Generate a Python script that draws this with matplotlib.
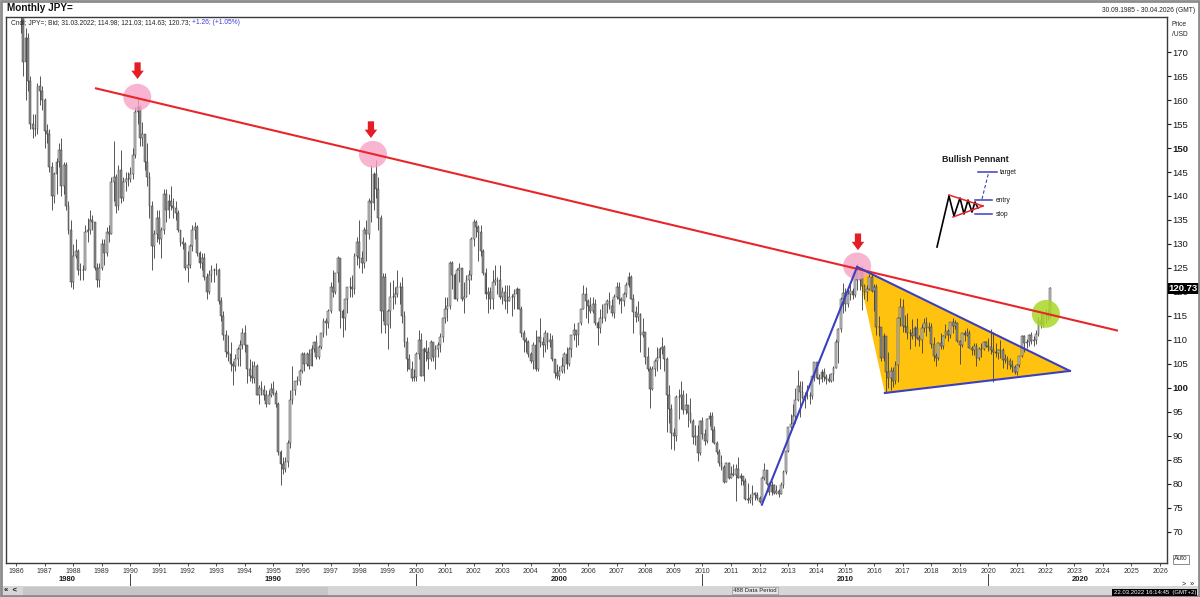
import numpy as np
import matplotlib
matplotlib.use("Agg")
import matplotlib.pyplot as plt
from matplotlib.patches import Ellipse, Polygon, Rectangle

plt.rcParams['font.family'] = ['Liberation Sans', 'DejaVu Sans']

# monthly USD/JPY bars, Oct 1985 .. Mar 2022 (open = previous close)
first_open = 216.0
last_open = 114.98

closes = [
    211.5, 201.5, 200.5,
    192, 180.5, 179, 168, 173, 164, 155, 154, 154, 163, 162, 160,
    153.5, 153, 146, 140, 144.5, 147, 149.5, 142, 146.5, 138, 133, 122,
    127.5, 128.5, 124.5, 124.5, 124.5, 132.5, 133, 135, 134.5, 125, 122.5, 125,
    130, 128, 132.5, 132, 143, 144, 138, 145.5, 139.5, 143, 143.5, 143.5,
    144.5, 148.5, 157.5, 158.5, 152, 153, 147, 144, 138, 129.5, 132, 135.5,
    131, 133, 140.5, 137, 139, 138, 137.5, 136.5, 133, 130.5, 130, 125,
    125.5, 129.5, 133, 133.5, 128, 126, 127, 123, 120, 123.5, 124.5, 124.5,
    124.5, 118, 115, 111, 107.5, 107, 105, 104.5, 106, 108, 109, 111.5,
    109, 104, 102.5, 102, 104.5, 98.5, 100, 99.5, 98.5, 96.5, 98.5, 99.7,
    99, 96.5, 86.5, 84, 83, 84.5, 88.5, 97.5, 99.5, 101.5, 101.5, 103.5,
    107, 105, 107, 104.5, 108, 109.5, 106.5, 108.5, 111.5, 114, 113.5, 116,
    121, 120, 124, 127, 116, 114.5, 118.5, 121, 121, 120.5, 127.5, 130.5,
    127, 126, 133, 132, 139, 138.5, 144.5, 141.5, 135.5, 116, 123, 113,
    116, 119, 119, 119.5, 121, 121, 115, 109.5, 106, 104, 102, 102.2,
    107, 110, 102.5, 108, 107.5, 106, 109.5, 106.5, 108, 109, 110.5, 114.5,
    116.5, 117, 126, 123.5, 118.5, 124.5, 125, 118.5, 119, 122.5, 123.5, 131,
    134.5, 133.5, 132.5, 128.5, 124, 119.5, 120, 118.5, 122, 122.5, 122.5, 119,
    120, 118, 118, 119, 119, 119.5, 120.5, 116.5, 111.5, 110, 109.5, 107,
    105.5, 109, 104, 110.5, 109.5, 109, 111.5, 109.5, 110, 106, 103, 102.5,
    103.5, 104.5, 107, 105, 108, 111, 112, 111, 113.5, 116.5, 119.5, 118,
    117, 116, 117.5, 113.5, 112.5, 114.5, 114.5, 117.5, 118, 117, 115.5, 119,
    121, 118.5, 118, 119.5, 121.5, 123, 118.5, 115.8, 114.8, 115.3, 111, 111.7,
    106.5, 104, 99.7, 104, 105.5, 106.2, 108, 108.5, 106, 98.5, 95.5, 90.6,
    89.9, 98, 98, 98.5, 95.3, 96.3, 94.7, 93, 89.7, 90, 86.3, 93,
    90.3, 88.8, 93.4, 94, 91.2, 88.4, 86.5, 84.2, 83.5, 80.4, 84.3, 81.1,
    82, 81.8, 83.1, 81.2, 81.5, 80.5, 76.8, 76.6, 77, 78, 77.6, 76.9,
    76.2, 81.2, 82.9, 80, 78.3, 79.8, 78.1, 78.4, 77.9, 79.8, 82.5, 86.7,
    91.7, 92.5, 94.2, 97.4, 100.4, 99.1, 97.9, 98.2, 98.2, 98.3, 102.4, 105.3,
    102, 101.8, 103.2, 102.2, 101.8, 101.3, 102.8, 104.1, 109.6, 112.3, 118.6, 119.8,
    117.5, 119.6, 120.1, 119.4, 124.1, 122.5, 123.9, 121.2, 119.9, 120.6, 123.1, 120.2,
    121.1, 112.7, 112.6, 106.3, 110.7, 103.2, 102.1, 103.4, 101.3, 104.8, 114.5, 116.9,
    112.8, 112.7, 111.4, 111.5, 110.8, 112.4, 110.3, 110.0, 112.5, 113.6, 112.5, 112.7,
    109.2, 106.7, 106.3, 109.3, 108.8, 110.7, 111.9, 111.0, 113.7, 112.9, 113.5, 109.7,
    108.9, 111.4, 110.9, 111.4, 108.3, 107.8, 108.8, 106.3, 108.1, 108.0, 109.5, 108.6,
    108.4, 107.9, 107.5, 107.2, 107.8, 107.9, 105.8, 105.9, 105.5, 104.7, 104.3, 103.2,
    104.7, 106.6, 110.7, 109.3, 109.6, 111.1, 109.7, 110.0, 111.3, 113.9, 113.2, 115.1,
    115.1, 115.0, 120.73,
]

highs = [
    217, 211, 204,
    203, 193, 182, 180, 175, 174, 165, 157, 157, 163.5, 165, 163,
    160.5, 155, 154, 147, 145, 148, 151, 152, 147, 147, 139, 135,
    130, 131, 129, 126, 125.5, 134, 135.5, 137, 136, 134.5, 126, 126,
    131, 131, 133.5, 134, 144, 151.5, 144.5, 146.5, 149.5, 144, 145, 145,
    146, 150, 158.5, 160.35, 159, 155.5, 153, 151, 145, 139, 133, 137,
    137, 133.5, 141.5, 141.5, 140.5, 142, 139.5, 139, 137, 133, 131.5, 130.5,
    128.5, 130, 134, 134.5, 134, 128.5, 128, 128, 124, 124.5, 125.5, 125,
    126, 125, 119, 116, 112, 111, 109.5, 105.5, 107, 108.5, 110, 112.5,
    113, 109, 106, 105.5, 105.5, 105, 100.5, 101.5, 100.5, 99.5, 99.5, 101,
    101.5, 99.5, 97, 87, 85.5, 85.5, 89, 99.5, 104.5, 101.5, 102.5, 104,
    107.5, 107.5, 107.5, 108, 109, 109.5, 111, 109, 111.5, 114.5, 114.5, 116.5,
    122, 124.5, 124, 127.5, 127, 116.5, 118.5, 121, 123, 123.5, 128, 131.5,
    135, 128.5, 133.5, 135, 139.5, 146.5, 145, 147.6, 144, 136, 124, 124,
    116.5, 122, 122.5, 121, 124.5, 122, 123, 116, 110.5, 107, 105.5, 104,
    107.5, 112, 111.5, 108.5, 110, 108.5, 110, 109.5, 109, 109.5, 111.5, 114.5,
    119, 119, 126.5, 126.5, 124, 125, 126, 125, 122, 123.5, 124.5, 131.5,
    135.2, 135, 134, 134, 129, 125, 121, 121, 124.5, 125.5, 123, 125.5,
    121, 121.5, 121.5, 121.5, 119.5, 120.5, 121, 120.5, 117, 112, 110.5, 110,
    107.5, 109.5, 112, 110.5, 114.5, 110.5, 112, 111.5, 111.5, 111, 106, 105,
    104.5, 106.5, 107.5, 108.5, 108.5, 111, 113.5, 112, 113.5, 116.5, 121.5, 121,
    118.5, 119, 119, 118.5, 114, 116.5, 117.5, 117.5, 118.5, 119.9, 118.5, 119.5,
    122, 122, 119, 120, 122, 124.1, 123.5, 119.5, 117, 118, 115.5, 114.5,
    111.5, 108.5, 104.5, 104.5, 106, 108.5, 108.5, 110.6, 109, 106.5, 100.5, 96.5,
    91.5, 98.5, 99.7, 101.4, 99.5, 98.9, 96, 97.8, 93.5, 92.3, 92.2, 93.2,
    93.8, 91.3, 93.7, 94.9, 94.9, 92.1, 88.9, 87.2, 86, 83.8, 84.4, 84.5,
    83.7, 84, 84, 85.5, 82.2, 81.5, 81.1, 80.2, 77.9, 79.6, 78.3, 78.3,
    77.5, 81.6, 84.2, 82.6, 80.4, 80.6, 80, 79.7, 78.9, 80.3, 82.8, 86.8,
    91.8, 94.5, 96.7, 99.9, 103.7, 101.5, 101.5, 99.1, 100.6, 99.1, 102.5, 105.4,
    105.4, 102.8, 103.8, 104.1, 102.8, 102.8, 103.1, 104.5, 110.1, 112.5, 118.9, 121.9,
    120.8, 120.5, 122.0, 120.8, 124.5, 125.86, 124.6, 125.3, 121.7, 121.5, 123.8, 123.7,
    121.7, 121.7, 114.9, 112.7, 111.4, 110.4, 107.5, 104.3, 104.3, 105.5, 114.8, 118.7,
    118.6, 115.2, 115.5, 112.2, 114.4, 112.9, 114.5, 111.1, 113.3, 114.5, 114.7, 113.7,
    113.4, 110.5, 107.3, 109.6, 111.4, 110.9, 113.2, 112.2, 113.8, 114.5, 114.2, 113.7,
    110.0, 111.5, 112.1, 112.4, 112.0, 108.8, 109.3, 109.3, 108.5, 109.3, 109.7, 109.7,
    110.3, 112.2, 111.7, 109.4, 108.1, 109.9, 108.2, 107.0, 106.6, 106.1, 105.7, 104.8,
    104.9, 106.7, 110.97, 110.96, 110.2, 111.2, 111.6, 110.8, 112.1, 114.7, 115.5, 115.2,
    116.35, 116.3, 121.03,
]

lows = [
    207, 200, 199,
    190, 178, 174, 165, 160, 162, 154, 152, 152.5, 153, 159, 158,
    150, 151, 145, 137, 138.5, 140.5, 146, 140, 140.5, 137, 132, 121,
    120.5, 127, 123.5, 122.5, 122.5, 124.5, 130.5, 132, 133, 124.5, 121, 121,
    124.5, 125.5, 127.5, 130.5, 132, 139, 136.5, 137, 138.5, 139, 141, 142,
    143, 143.5, 148, 155, 150.5, 150.5, 145.5, 142, 135.5, 124.5, 127, 130.5,
    130, 127, 132, 134.5, 135.5, 137, 135.5, 135, 132.5, 129.5, 129, 124.5,
    122, 125, 128.5, 131, 127.5, 125, 124.5, 122.5, 118.5, 119.5, 122, 122,
    123.5, 117.5, 114, 110, 106.5, 105.5, 103.5, 100.5, 103.5, 104.5, 104.5, 108,
    107.5, 101, 101.5, 101, 101, 98.5, 96.5, 98.5, 97.5, 96, 96.5, 98,
    98.5, 96, 86, 79.75, 82, 82.5, 83.5, 87.5, 96.5, 98.5, 100.5, 100.5,
    103, 103.5, 104.5, 104, 104.5, 107.5, 106, 106, 108, 110.5, 111, 112.5,
    115.5, 119, 119.5, 122, 112.5, 110.5, 112, 115.5, 119, 119, 119.5, 125.5,
    125, 124, 125, 126.5, 131, 134.5, 137, 139.5, 133, 111.5, 114, 111.5,
    108, 112.5, 116.5, 117.5, 119, 117.5, 113.5, 108.5, 103.5, 104, 101.5, 101.3,
    101.5, 106, 102.5, 101.5, 105.5, 104, 105.5, 105.5, 104, 106.5, 107.5, 109.5,
    113.5, 114, 116.5, 120.5, 118.5, 118, 122, 118, 115.5, 119, 119.5, 122.5,
    129.5, 131.5, 126.5, 127.5, 123.5, 118.5, 115.5, 116.5, 116.5, 121.5, 119.5, 118.5,
    117.5, 116.5, 115.5, 118, 115, 116.5, 116.5, 116.5, 110.5, 107.5, 107.5, 106.5,
    105.2, 104, 103.5, 103.5, 108.5, 106.5, 107.5, 108, 108.5, 105.5, 102, 101.8,
    101.7, 103, 103, 104, 104.5, 106.5, 110, 108.5, 109, 113, 116.5, 114.5,
    113.5, 115.5, 115.5, 113, 109, 111.5, 113.5, 114, 115.5, 116.5, 115, 114.5,
    118.5, 117.5, 115.5, 117, 119, 121, 118.5, 111.5, 113.8, 114, 107.5, 110.5,
    105, 103.5, 95.8, 99.5, 102.5, 103.5, 103.8, 107, 103.5, 90.8, 92.6, 87.2,
    87.1, 88.9, 93.5, 95.5, 94.5, 94.5, 91.7, 92.7, 88.2, 88, 84.8, 86,
    89.4, 88.1, 88.4, 92, 88.7, 88.2, 86.2, 83.6, 82.9, 80.2, 80.3, 80.9,
    81.2, 81.5, 76.3, 81.1, 79.6, 79.7, 76.6, 75.9, 75.9, 75.6, 76.6, 76.6,
    76, 76.1, 80.8, 79.8, 77.7, 77.6, 77.9, 77.9, 77.1, 77.9, 79, 82,
    86.5, 90.8, 92.6, 92.6, 97.3, 93.8, 97.6, 95.8, 97.6, 96.6, 97.6, 101.3,
    101.8, 100.8, 101.2, 101.4, 100.8, 101.1, 101.1, 101.5, 104.2, 105.2, 111.6, 115.6,
    115.9, 116.9, 118.3, 118.5, 118.9, 120.4, 120.4, 116.2, 118.6, 118.1, 120.3, 119.9,
    116.0, 111.0, 110.7, 105.6, 105.5, 99.0, 100.0, 99.5, 100.1, 100.7, 101.2, 112.9,
    111.6, 111.6, 110.1, 108.1, 110.2, 108.8, 110.2, 108.6, 107.3, 111.7, 110.8, 111.9,
    108.3, 105.5, 104.6, 105.7, 108.1, 108.1, 110.3, 109.8, 110.4, 111.4, 112.3, 109.6,
    104.9, 108.5, 109.7, 110.8, 108.3, 106.8, 106.8, 104.5, 105.7, 106.5, 107.9, 108.4,
    107.7, 107.0, 101.2, 106.4, 106.0, 106.1, 104.2, 105.1, 104.0, 104.0, 103.2, 102.9,
    102.6, 104.4, 106.4, 107.5, 108.3, 108.6, 109.1, 108.7, 109.1, 110.8, 112.5, 112.6,
    113.5, 114.2, 114.63,
]

# drawn annotations (decimal year, price)
resistance = [(1988.76, 162.5), (2024.53, 111.9)]
impulse = [(2012.08, 75.6), (2015.41, 125.2)]
pennant = [(2015.41, 125.2), (2022.85, 103.5), (2016.38, 98.9)]
touch_points = [(1990.24, 160.6), (1998.48, 148.7), (2015.41, 125.4)]
breakout_point = (2022.01, 115.4)
arrow_tips = [(1990.25, 164.4), (1998.41, 152.1), (2015.44, 128.7)]

years = list(range(1986, 2027))
decades = [("1980", 1987.8), ("1990", 1995.0), ("2000", 2005.0), ("2010", 2015.0), ("2020", 2023.2)]
decade_marks = [1990, 2000, 2010, 2020]
price_ticks = list(range(70, 175, 5))

opens = [first_open] + closes[:-1]
opens[-1] = last_open
n = len(closes)
t = 1985.75 + np.arange(n) / 12.0
o = np.array(opens)
c = np.array(closes)
h = np.array(highs)
l = np.array(lows)

W, H = 1200, 597
fig = plt.figure(figsize=(12, 5.97), dpi=100)
ax = fig.add_axes([6 / W, 34 / H, 1161 / W, 546 / H])
ax.set_xlim(1985.65, 2026.245)
ax.set_ylim(63.43, 177.34)

# pennant fill under the candles
ax.add_patch(Polygon(pennant, closed=True, facecolor='#ffc20e', edgecolor='none', zorder=1))

# candles
ax.vlines(t, l, h, color='#3c3c3c', lw=0.6, zorder=2)
up = c >= o
body_lo = np.minimum(o, c)
body_hi = np.maximum(o, c)
ax.bar(t[up], body_hi[up] - body_lo[up], bottom=body_lo[up], width=0.065,
       color='#c6c6c6', edgecolor='#3c3c3c', lw=0.35, zorder=2)
ax.bar(t[~up], body_hi[~up] - body_lo[~up], bottom=body_lo[~up], width=0.065,
       color='#8c8c8c', edgecolor='#3c3c3c', lw=0.35, zorder=2)

for cx, cy in touch_points:
    ax.add_patch(Ellipse((cx, cy), 0.98, 5.6, facecolor='#f5a3c7', alpha=0.8,
                         edgecolor='none', zorder=3))
ax.add_patch(Ellipse(breakout_point, 0.98, 5.8, facecolor='#a9d628', alpha=0.85,
                     edgecolor='none', zorder=3))

ax.plot(*zip(*resistance), color='#e8262a', lw=1.5, zorder=4, solid_capstyle='butt')
ax.plot(*zip(*impulse), color='#3c3fc0', lw=1.5, zorder=4)
ax.plot([pennant[0][0], pennant[1][0]], [pennant[0][1], pennant[1][1]], color='#3c3fc0', lw=1.5, zorder=4)
ax.plot([pennant[2][0], pennant[1][0]], [pennant[2][1], pennant[1][1]], color='#3c3fc0', lw=1.5, zorder=4)

for ax_, ay in arrow_tips:
    ax.annotate('', xy=(ax_, ay), xytext=(0, 12), textcoords='offset points',
                arrowprops=dict(arrowstyle='simple,head_length=0.6,head_width=0.9,tail_width=0.45',
                                fc='#e31e24', ec='none', shrinkA=0, shrinkB=0), zorder=5)

# axes styling
for s in ax.spines.values():
    s.set_color('#3a3a3a')
    s.set_linewidth(1.0)
ax.yaxis.tick_right()
ax.set_yticks(price_ticks)
ax.set_yticklabels([str(p) for p in price_ticks], fontsize=6.8, color='#1a1a1a')
for lab in ax.get_yticklabels():
    if lab.get_text() in ('100', '150'):
        lab.set_fontweight('bold')
ax.tick_params(axis='y', direction='out', length=3, width=0.8, pad=1, colors='#1a1a1a')
ax.set_xticks(years)
ax.set_xticklabels([str(y) for y in years], fontsize=5, color='#333333')
ax.tick_params(axis='x', direction='out', length=2, width=0.6, pad=1.5, colors='#333333')

xt = ax.get_xaxis_transform()
for lab, xpos in decades:
    ax.text(xpos, -0.0295, lab, transform=xt, ha='center', va='center',
            fontsize=5.5, fontweight='bold', color='#1a1a1a', clip_on=False)
for d in decade_marks:
    ax.plot([d, d], [-0.020, -0.046], transform=xt, color='#444444', lw=0.7, clip_on=False)

# last price marker (covers the 120 tick label, as in the terminal)
yt = ax.get_yaxis_transform()
ax.text(1.0015, closes[-1], f"{closes[-1]:.2f}", transform=yt, ha='left', va='center',
        fontsize=6.8, fontweight='bold', color='white', clip_on=False, zorder=10,
        bbox=dict(boxstyle='square,pad=0.12', facecolor='black', edgecolor='none'))

# bullish pennant sketch
ins = fig.add_axes([928 / W, 1 - 252 / H, 84 / W, 104 / H])
ins.set_xlim(928, 1012)
ins.set_ylim(252, 148)
ins.axis('off')
ins.text(975, 159, 'Bullish Pennant', ha='center', va='center', fontsize=6.3,
         fontweight='bold', color='#1a1a1a', clip_on=False)
pole = [(937, 247), (949, 196)]
zigzag = [(949, 196), (954, 216), (960, 198), (964, 214), (968, 200), (972, 212), (975, 202), (978, 208)]
ins.plot(*zip(*pole), color='black', lw=1.2)
ins.plot(*zip(*zigzag), color='black', lw=1.2)
ins.plot([949, 983], [195, 206], color='#e8262a', lw=1.1)
ins.plot([953, 983], [217, 206], color='#e8262a', lw=1.1)
ins.plot([978, 997], [172, 172], color='#3c3fc0', lw=1.1)
ins.plot([975, 992], [200, 200], color='#3c3fc0', lw=1.1)
ins.plot([975, 992], [214, 214], color='#3c3fc0', lw=1.1)
ins.plot([982, 988.5], [199, 173], color='#3c3fc0', lw=0.8, ls=(0, (3, 2)))
ins.text(1000, 172, 'target', fontsize=4.8, va='center', color='#1a1a1a', clip_on=False)
ins.text(996, 200, 'entry', fontsize=4.8, va='center', color='#1a1a1a', clip_on=False)
ins.text(996, 214, 'stop', fontsize=4.8, va='center', color='#1a1a1a', clip_on=False)

# header
fig.text(7 / W, 1 - 8 / H, 'Monthly JPY=', fontsize=7.2, fontweight='bold', va='center', color='#111111')
hdr = fig.text(11 / W, 1 - 22.5 / H, 'Cndl; JPY=; Bid; 31.03.2022; 114.98; 121.03; 114.63; 120.73; ',
               fontsize=4.8, va='center', color='#222222')
ax.annotate('+1.26; (+1.05%)', xy=(1, 0), xycoords=hdr, va='bottom', ha='left',
            fontsize=4.8, color='#3a3adf', annotation_clip=False)
fig.text(1195 / W, 1 - 10 / H, '30.09.1985 - 30.04.2026 (GMT)', fontsize=4.8, ha='right',
         va='center', color='#222222')
fig.text(1172 / W, 1 - 24 / H, 'Price', fontsize=4.8, va='center', color='#222222')
fig.text(1172 / W, 1 - 35 / H, '/USD', fontsize=4.8, va='center', color='#222222')
fig.text(1174 / W, 1 - 559 / H, 'Auto', fontsize=4.8, va='center', color='#333333',
         bbox=dict(boxstyle='square,pad=0.15', facecolor='white', edgecolor='#777777', lw=0.6))

# scroll bar and status line
fig.add_artist(Rectangle((0, 0), 1, 11 / H, transform=fig.transFigure, facecolor='#d6d6d6',
                         edgecolor='none'))
fig.add_artist(Rectangle((23 / W, 1 / H), 305 / W, 9 / H, transform=fig.transFigure,
                         facecolor='#c6c6c6', edgecolor='none'))
fig.text(4 / W, 6 / H, '\u00ab  <', fontsize=5.5, va='center', color='#111111', fontweight='bold')
fig.text(1182 / W, 12 / H, '>  \u00bb', fontsize=5, va='center', color='#111111')
fig.text(733 / W, 6.5 / H, '488 Data Period', fontsize=4.3, va='center', color='#222222',
         bbox=dict(boxstyle='square,pad=0.2', facecolor='#e6e6e6', edgecolor='#999999', lw=0.5))
fig.text(1196 / W, 4.5 / H, '22.03.2022 16:14:45  (GMT+2)', fontsize=4.3, ha='right', va='center',
         color='white', bbox=dict(boxstyle='square,pad=0.2', facecolor='black', edgecolor='none'))

# window frame
fig.add_artist(Rectangle((0.001, 0.001), 0.998, 0.998, transform=fig.transFigure, fill=False,
                         edgecolor='#8c8c8c', lw=2))

fig.savefig('out.png', dpi=100, facecolor='white')
